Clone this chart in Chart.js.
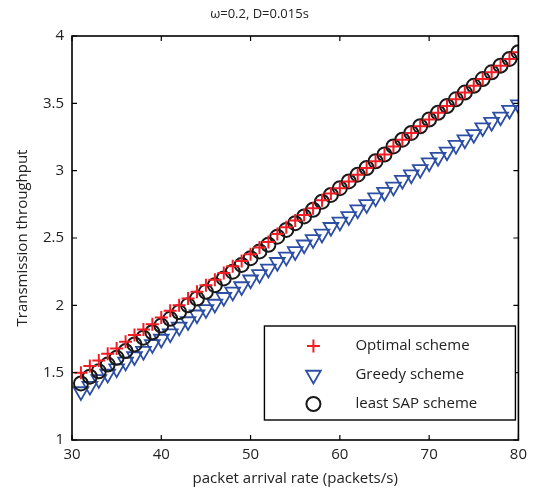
<!DOCTYPE html>
<html>
<head>
<meta charset="utf-8">
<script src="https://cdn.jsdelivr.net/npm/chart.js@4/dist/chart.umd.min.js"></script>
<style>
  html, body { margin: 0; padding: 0; background: #fff; }
  #wrap { width: 533px; height: 489px; }
</style>
</head>
<body>
<div id="wrap"><canvas id="chart" width="533" height="489"></canvas></div>
<script>
const arrivalRates = [31, 32, 33, 34, 35, 36, 37, 38, 39, 40,
  41, 42, 43, 44, 45, 46, 47, 48, 49, 50,
  51, 52, 53, 54, 55, 56, 57, 58, 59, 60,
  61, 62, 63, 64, 65, 66, 67, 68, 69, 70,
  71, 72, 73, 74, 75, 76, 77, 78, 79, 80];

const optimalScheme = [1.50, 1.55, 1.59, 1.64, 1.68, 1.73, 1.78, 1.82, 1.86, 1.91,
  1.96, 2.00, 2.05, 2.10, 2.15, 2.19, 2.24, 2.29, 2.33, 2.38,
  2.43, 2.47, 2.53, 2.58, 2.63, 2.67, 2.72, 2.78, 2.83, 2.87,
  2.92, 2.97, 3.02, 3.07, 3.12, 3.18, 3.23, 3.28, 3.33, 3.38,
  3.43, 3.48, 3.53, 3.58, 3.63, 3.68, 3.73, 3.78, 3.83, 3.88];

const greedyScheme = [1.36, 1.40, 1.45, 1.49, 1.53, 1.58, 1.62, 1.66, 1.71, 1.75,
  1.79, 1.84, 1.88, 1.93, 1.97, 2.01, 2.06, 2.10, 2.14, 2.19,
  2.23, 2.27, 2.32, 2.36, 2.40, 2.45, 2.49, 2.53, 2.58, 2.62,
  2.66, 2.71, 2.75, 2.80, 2.84, 2.88, 2.93, 2.97, 3.01, 3.06,
  3.10, 3.14, 3.19, 3.23, 3.27, 3.32, 3.36, 3.40, 3.45, 3.49];

const leastSapScheme = [1.42, 1.47, 1.51, 1.56, 1.61, 1.66, 1.71, 1.76, 1.80, 1.85,
  1.90, 1.95, 2.00, 2.05, 2.10, 2.15, 2.20, 2.25, 2.30, 2.35,
  2.40, 2.45, 2.51, 2.56, 2.61, 2.66, 2.71, 2.77, 2.82, 2.87,
  2.92, 2.97, 3.02, 3.07, 3.12, 3.18, 3.23, 3.28, 3.33, 3.38,
  3.43, 3.48, 3.53, 3.58, 3.63, 3.68, 3.73, 3.78, 3.83, 3.88];

const seriesLabels = ["Optimal scheme", "Greedy scheme", "least SAP scheme"];
const chartTitle = "\u03c9=0.2, D=0.015s";
const xTitle = "packet arrival rate (packets/s)";
const yTitle = "Transmission throughput";

const FONT = "'Open Sans', 'DejaVu Sans', sans-serif";

function toPoints(ys) {
  return arrivalRates.map((x, i) => ({ x: x, y: ys[i] }));
}

// matlab-like box with ticks pointing inwards
const boxPlugin = {
  id: "box",
  afterDraw(chart) {
    const { ctx, chartArea: a } = chart;
    const xs = chart.scales.x, ys = chart.scales.y;
    ctx.save();
    ctx.strokeStyle = "#000";
    ctx.lineWidth = 1.6;
    ctx.strokeRect(a.left, a.top, a.right - a.left, a.bottom - a.top);
    ctx.lineWidth = 1.2;
    ctx.beginPath();
    xs.ticks.forEach((t) => {
      const px = xs.getPixelForValue(t.value);
      ctx.moveTo(px, a.bottom); ctx.lineTo(px, a.bottom - 5);
      ctx.moveTo(px, a.top); ctx.lineTo(px, a.top + 5);
    });
    ys.ticks.forEach((t) => {
      const py = ys.getPixelForValue(t.value);
      ctx.moveTo(a.left, py); ctx.lineTo(a.left + 5, py);
      ctx.moveTo(a.right, py); ctx.lineTo(a.right - 5, py);
    });
    ctx.stroke();

    // legend box in the lower right corner
    const bx = a.right - 254, by = a.bottom - 114, bw = 251, bh = 94;
    ctx.fillStyle = "#fff";
    ctx.fillRect(bx, by, bw, bh);
    ctx.lineWidth = 1.4;
    ctx.strokeRect(bx, by, bw, bh);
    ctx.font = "15px " + FONT;
    ctx.textBaseline = "middle";
    ctx.textAlign = "left";
    chart.data.datasets.forEach((ds, i) => {
      const cy = by + 20 + i * 29;
      const mx = bx + 49;
      ctx.strokeStyle = ds.borderColor;
      ctx.fillStyle = "rgba(0,0,0,0)";
      ctx.lineWidth = ds.pointBorderWidth;
      Chart.helpers.drawPoint(ctx, {
        pointStyle: ds.pointStyle,
        radius: ds.pointRadius,
        rotation: ds.pointRotation || 0,
        borderWidth: ds.pointBorderWidth
      }, mx, cy);
      ctx.fillStyle = "#222";
      ctx.fillText(ds.label, bx + 91, cy);
    });
    ctx.restore();
  }
};

new Chart(document.getElementById("chart"), {
  type: "scatter",
  data: {
    datasets: [
      {
        label: seriesLabels[0],
        data: toPoints(optimalScheme),
        pointStyle: "cross",
        pointRadius: 6.5,
        pointBorderWidth: 2,
        borderColor: "rgb(240,30,36)",
        backgroundColor: "rgb(240,30,36)",
        order: 0,
      },
      {
        label: seriesLabels[1],
        data: toPoints(greedyScheme),
        pointStyle: "triangle",
        pointRotation: 180,
        pointRadius: 8.5,
        pointBorderWidth: 1.8,
        borderColor: "rgb(44,78,165)",
        backgroundColor: "rgba(0,0,0,0)",
        order: 2,
      },
      {
        label: seriesLabels[2],
        data: toPoints(leastSapScheme),
        pointStyle: "circle",
        pointRadius: 7,
        pointBorderWidth: 2,
        borderColor: "rgb(25,25,25)",
        backgroundColor: "rgba(0,0,0,0)",
        order: 1,
      },
    ],
  },
  options: {
    responsive: false,
    animation: false,
    events: [],
    layout: { padding: { left: 0, right: 14, top: 0, bottom: 0 } },
    plugins: {
      legend: { display: false },
      tooltip: { enabled: false },
      title: {
        display: true,
        text: chartTitle,
        color: "#222",
        font: { family: FONT, size: 13, weight: "normal" },
        padding: { top: 6, bottom: 14.4 },
      },
    },
    scales: {
      x: {
        type: "linear",
        min: 30,
        max: 80,
        ticks: { stepSize: 10, color: "#222", padding: 6, font: { family: FONT, size: 15 } },
        grid: { display: false, drawTicks: false },
        border: { display: false },
        title: {
          display: true,
          text: xTitle,
          color: "#222",
          font: { family: FONT, size: 15 },
          padding: { top: 0, bottom: 1 },
        },
        afterFit(scale) { scale.height = 49; },
      },
      y: {
        type: "linear",
        min: 1,
        max: 4,
        ticks: {
          stepSize: 0.5,
          color: "#222",
          padding: 8,
          font: { family: FONT, size: 15 },
          callback: (v) => String(v),
        },
        grid: { display: false, drawTicks: false },
        border: { display: false },
        title: {
          display: true,
          text: yTitle,
          color: "#222",
          font: { family: FONT, size: 15 },
          padding: { top: 14, bottom: 0 },
        },
        afterFit(scale) { scale.width = 72; },
      },
    },
  },
  plugins: [boxPlugin],
});
</script>
</body>
</html>
